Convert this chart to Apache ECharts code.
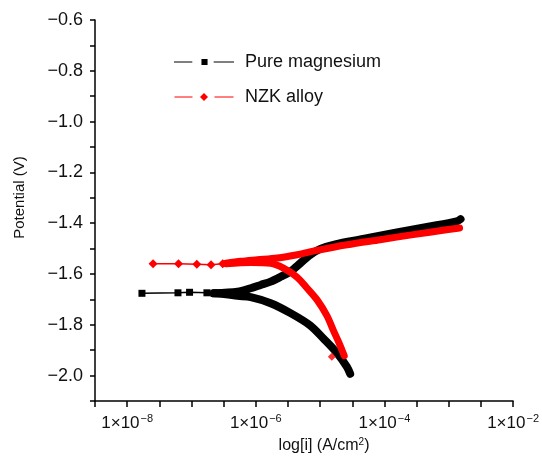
<!DOCTYPE html>
<html>
<head>
<meta charset="utf-8">
<script src="https://cdn.jsdelivr.net/npm/echarts@6/dist/echarts.min.js"></script>
<style>
html,body{margin:0;padding:0;background:#fff;}
#chart{width:542px;height:462px;}
</style>
</head>
<body>
<div id="chart"></div>
<script>
// x values are log10 of current density (A/cm^2), y values are potential (V)
const seriesNames = ['Pure magnesium', 'NZK alloy'];

// Pure magnesium
const pureMgLowCurrent = [[-7.77,-1.676],[-7.21,-1.674],[-7.03,-1.672],[-6.76,-1.674],[-6.65,-1.676]];
const pureMgCathodic = [[-4.533,-1.993],[-4.583,-1.966],[-4.738,-1.911],[-4.945,-1.855],[-5.151,-1.803],[-5.460,-1.754],[-5.769,-1.715],[-6.078,-1.691],[-6.284,-1.686],[-6.464,-1.680],[-6.65,-1.676]];
const pureMgAnodic = [[-6.65,-1.676],[-6.284,-1.670],[-6.078,-1.656],[-5.924,-1.643],[-5.769,-1.630],[-5.614,-1.611],[-5.460,-1.590],[-5.305,-1.557],[-5.151,-1.524],[-4.996,-1.501],[-4.764,-1.483],[-4.332,-1.462],[-3.806,-1.436],[-3.296,-1.413],[-2.879,-1.393],[-2.817,-1.384]];

// NZK alloy
const nzkLowCurrent = [[-7.597,-1.560],[-7.202,-1.560],[-6.917,-1.562],[-6.696,-1.564],[-6.515,-1.560]];
const nzkCathodic = [[-4.625,-1.922],[-4.661,-1.899],[-4.713,-1.867],[-4.791,-1.824],[-4.893,-1.765],[-5.047,-1.702],[-5.202,-1.656],[-5.356,-1.613],[-5.563,-1.578],[-5.769,-1.558],[-6.078,-1.555],[-6.464,-1.560]];
const nzkAnodic = [[-6.464,-1.558],[-6.233,-1.550],[-5.974,-1.544],[-5.665,-1.537],[-5.356,-1.524],[-5.047,-1.507],[-4.583,-1.485],[-4.069,-1.465],[-3.554,-1.445],[-3.038,-1.426],[-2.832,-1.419]];
const nzkStray = [[-4.818,-1.926]];

// axes
const xTickExponents = [-8, -6, -4, -2];
const xRange = [-8.5, -2];
const yRange = [-2.1, -0.6];

const FONT = 'Liberation Sans, Arial, Helvetica, sans-serif';
const BLACK = '#000000';
const RED = '#ff0000';

const chart = echarts.init(document.getElementById('chart'), null, {renderer: 'canvas'});

function denseSeries(name, data, color, width, z) {
  return {
    name: name,
    type: 'line',
    data: data,
    showSymbol: false,
    symbol: 'none',
    smooth: 0.3,
    lineStyle: {color: color, width: width, cap: 'round', join: 'round'},
    itemStyle: {color: color},
    z: z
  };
}

const option = {
  animation: false,
  backgroundColor: '#ffffff',
  textStyle: {fontFamily: FONT},
  grid: {left: 95, right: 28, top: 20, bottom: 61, containLabel: false},
  legend: {
    orient: 'vertical',
    left: 169,
    top: 46,
    itemWidth: 60,
    itemHeight: 8,
    itemGap: 13,
    symbolKeepAspect: true,
    data: [
      {name: seriesNames[0], icon: 'path://M0,2.5H18V3.5H0Z M27,0H33V6H27Z M39,2.5H59V3.5H39Z'},
      {name: seriesNames[1], icon: 'path://M0,3.5H18V4.5H0Z M29.5,0L33.5,4L29.5,8L25.5,4Z M40,3.5H59V4.5H40Z'}
    ],
    textStyle: {fontFamily: FONT, fontSize: 18, color: '#111', lineHeight: 22, padding: [0, 0, 0, 6]},
    selectedMode: false
  },
  xAxis: {
    type: 'value',
    min: xRange[0],
    max: xRange[1],
    interval: 0.5,
    splitLine: {show: false},
    axisLine: {lineStyle: {color: '#000', width: 1.5}},
    axisTick: {length: 6, lineStyle: {color: '#000', width: 1.5}},
    axisLabel: {
      margin: 12,
      color: '#111',
      formatter: function (v) {
        const r = Math.round(v);
        if (Math.abs(v - r) < 1e-6 && xTickExponents.indexOf(r) >= 0) {
          return '{a|1×10}{s|−' + Math.abs(r) + '}';
        }
        return '';
      },
      rich: {
        a: {fontFamily: FONT, fontSize: 17, color: '#111'},
        s: {fontFamily: FONT, fontSize: 11, color: '#111', verticalAlign: 'bottom', padding: [0, 0, 10, 1]}
      }
    },
    name: 'log[i] (A/cm{sup|2})',
    nameLocation: 'middle',
    nameGap: 36,
    nameTextStyle: {
      fontFamily: FONT, fontSize: 16, color: '#111', padding: [0, 0, 0, 40],
      rich: {sup: {fontFamily: FONT, fontSize: 10, color: '#111', verticalAlign: 'bottom', padding: [0, 0, 8, 0]}}
    }
  },
  yAxis: {
    type: 'value',
    min: yRange[0],
    max: yRange[1],
    interval: 0.1,
    splitLine: {show: false},
    axisLine: {lineStyle: {color: '#000', width: 1.5}},
    axisTick: {length: 5, lineStyle: {color: '#000', width: 1.5}},
    axisLabel: {
      margin: 12,
      color: '#111',
      fontFamily: FONT,
      fontSize: 18,
      formatter: function (v) {
        const k = Math.round(v * 10);
        if (k % 2 !== 0) return '';
        return (k / 10).toFixed(1).replace('-', '−');
      }
    },
    name: 'Potential (V)',
    nameLocation: 'middle',
    nameRotate: 90,
    nameGap: 68,
    nameTextStyle: {fontFamily: FONT, fontSize: 15, color: '#111', padding: [0, 0, 0, 26]}
  },
  series: [
    denseSeries('Pure magnesium cathodic', pureMgCathodic, BLACK, 8, 2),
    denseSeries('Pure magnesium anodic', pureMgAnodic, BLACK, 8, 2),
    {
      name: 'Pure magnesium',
      type: 'line',
      data: pureMgLowCurrent,
      symbol: 'rect',
      symbolSize: 7,
      lineStyle: {color: BLACK, width: 1.5},
      itemStyle: {color: BLACK},
      z: 3
    },
    denseSeries('NZK alloy cathodic', nzkCathodic, RED, 7, 4),
    denseSeries('NZK alloy anodic', nzkAnodic, RED, 7, 4),
    {
      name: 'NZK alloy',
      type: 'line',
      data: nzkLowCurrent,
      symbol: 'diamond',
      symbolSize: 9,
      lineStyle: {color: RED, width: 1.5},
      itemStyle: {color: RED},
      z: 5
    },
    {
      name: 'NZK alloy stray',
      type: 'scatter',
      data: nzkStray,
      symbol: 'diamond',
      symbolSize: 8,
      itemStyle: {color: RED},
      z: 5
    }
  ]
};
chart.setOption(option);
</script>
</body>
</html>
